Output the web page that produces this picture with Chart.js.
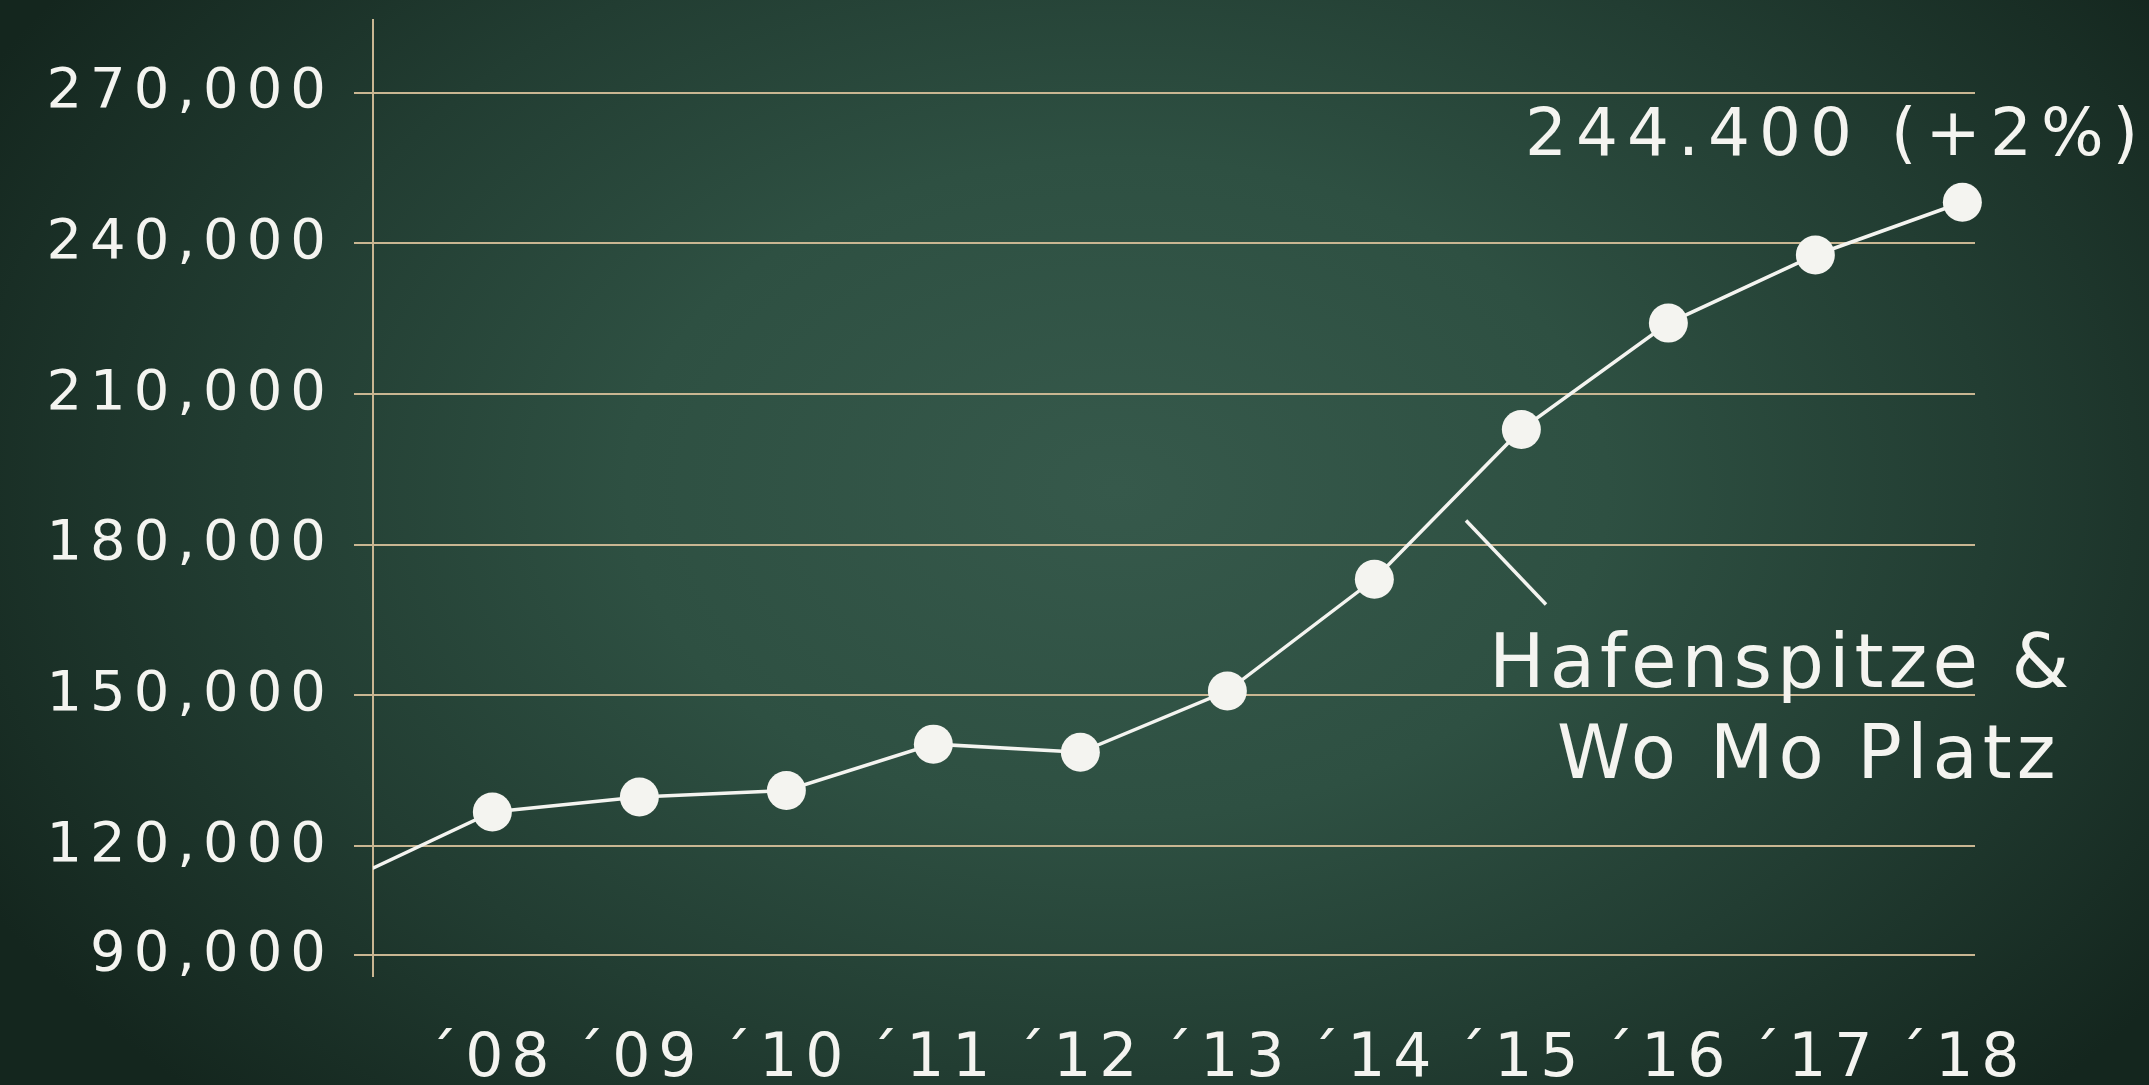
<!DOCTYPE html>
<html>
<head>
<meta charset="utf-8">
<title>Besucher</title>
<script src="https://cdn.jsdelivr.net/npm/chart.js@4.4.1/dist/chart.umd.min.js"></script>
<style>
html, body { margin: 0; padding: 0; width: 2149px; height: 1085px; overflow: hidden; }
body {
  background: radial-gradient(ellipse 60% 80% at 52% 45%, #36594b 0%, #2e5042 38%, #223d32 68%, #14261e 100%);
}
#wrap { position: relative; width: 2149px; height: 1085px; }
</style>
</head>
<body>
<div id="wrap"><canvas id="chart"></canvas></div>
<script>
// values ('07 sits left of the axis, only its line shows)
var years = [2007, 2008, 2009, 2010, 2011, 2012, 2013, 2014, 2015, 2016, 2017, 2018];
var visitors = [113000, 126770, 129740, 131050, 140280, 138650, 150850, 173110, 202960, 224130, 237700, 248200];
var xTickLabels = ['´07', '´08', '´09', '´10', '´11', '´12', '´13', '´14', '´15', '´16', '´17', '´18'];
var yTickValues = [98220, 120000, 150000, 180000, 210000, 240000, 270000];
var yTickLabels = ['90,000', '120,000', '150,000', '180,000', '210,000', '240,000', '270,000'];
var valueLabel = '244.400 (+2%)';
var seriesLabel = ['Hafenspitze &', 'Wo Mo Platz'];

var chalk = '#f4f4f0';
var lineTan = '#c9b692';
var font = 'DejaVu Sans';

// chalk letters are wide, so space them out a bit
var spacing = {
  id: 'spacing',
  beforeLayout: function(chart) { chart.ctx.letterSpacing = '8px'; },
  beforeDraw: function(chart) { chart.ctx.letterSpacing = '8px'; }
};

var notes = {
  id: 'notes',
  afterDraw: function(chart) {
    var ctx = chart.ctx;
    var area = chart.chartArea;
    var xs = chart.scales.x, ys = chart.scales.y;
    var last = visitors.length - 1;
    var px = xs.getPixelForValue(years[last]);
    var py = ys.getPixelForValue(visitors[last]);
    ctx.save();
    ctx.fillStyle = chalk;
    ctx.textBaseline = 'alphabetic';
    ctx.letterSpacing = '9px';
    ctx.font = '66px "' + font + '"';
    ctx.textAlign = 'right';
    ctx.fillText(valueLabel, px + 185, py - 47);

    // pointer + series name
    ctx.strokeStyle = chalk;
    ctx.lineWidth = 3.5;
    ctx.beginPath();
    ctx.moveTo(area.right - 509, area.top + 501);
    ctx.lineTo(area.right - 429, area.top + 585);
    ctx.stroke();

    ctx.letterSpacing = '5px';
    ctx.font = '74px "' + font + '"';
    ctx.textAlign = 'left';
    ctx.fillText(seriesLabel[0], area.right - 486, area.top + 667);
    ctx.fillText(seriesLabel[1], area.right - 418, area.top + 758);
    ctx.restore();
  }
};

new Chart(document.getElementById('chart'), {
  type: 'line',
  data: {
    datasets: [{
      data: years.map(function(y, i) { return { x: y, y: visitors[i] }; }),
      borderColor: chalk,
      borderWidth: 3.5,
      pointRadius: 19.5,
      pointHoverRadius: 19.5,
      pointBackgroundColor: chalk,
      pointBorderWidth: 0,
      tension: 0,
      clip: { left: 0, top: false, right: false, bottom: false }
    }]
  },
  options: {
    responsive: true,
    maintainAspectRatio: false,
    animation: false,
    layout: { padding: { left: 0, top: 14, right: 174, bottom: 0 } },
    plugins: {
      legend: { display: false },
      tooltip: { enabled: false }
    },
    scales: {
      x: {
        type: 'linear',
        min: 2007.188,
        max: 2018.086,
        grid: { display: false, drawTicks: false },
        border: { display: false },
        afterFit: function(scale) {
          scale.height = 109;
          scale.paddingLeft = 0;
          scale.paddingRight = 0;
        },
        ticks: {
          stepSize: 1,
          includeBounds: false,
          autoSkip: false,
          maxRotation: 0,
          padding: 48,
          color: chalk,
          font: { family: font, size: 60 },
          callback: function(v) {
            var i = years.indexOf(v);
            return i < 0 ? '' : xTickLabels[i];
          }
        }
      },
      y: {
        min: 94100,
        max: 284600,
        afterFit: function(scale) {
          scale.width = 373;
          scale.paddingTop = 0;
          scale.paddingBottom = 0;
        },
        afterBuildTicks: function(scale) {
          scale.ticks = yTickValues.map(function(v) { return { value: v }; });
        },
        grid: { color: lineTan, lineWidth: 2, tickLength: 19 },
        border: { display: true, color: lineTan, width: 2 },
        ticks: {
          padding: 20,
          color: chalk,
          font: { family: font, size: 56 },
          callback: function(v) {
            var i = yTickValues.indexOf(v);
            return i < 0 ? '' : yTickLabels[i];
          }
        }
      }
    }
  },
  plugins: [spacing, notes]
});
</script>
</body>
</html>
